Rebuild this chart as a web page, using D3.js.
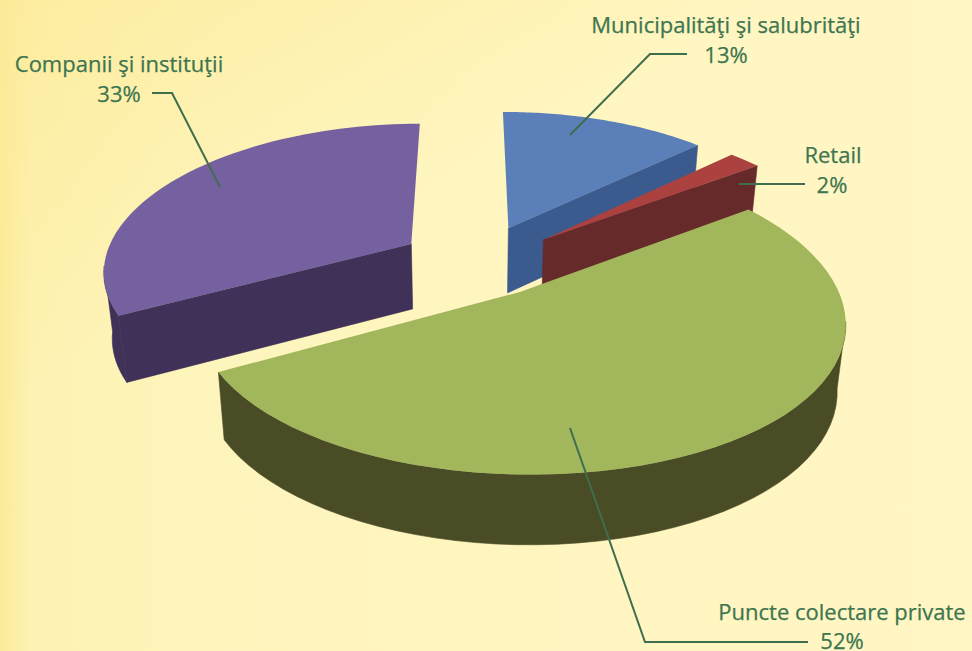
<!DOCTYPE html>
<html>
<head>
<meta charset="utf-8">
<script src="https://cdnjs.cloudflare.com/ajax/libs/d3/7.8.5/d3.min.js"></script>
<style>
  html, body { margin: 0; padding: 0; background: #fff5bf; overflow: hidden; }
  svg { display: block; }
  .label { font-family: "Open Sans", sans-serif; font-size: 22px; fill: #3d7550; stroke: #3d7550; stroke-width: 0.25; text-anchor: middle; }
  .leader { fill: none; stroke: #3f6e4e; stroke-width: 2; }
</style>
</head>
<body>
<svg width="972" height="651"></svg>
<script>
// slice data, clockwise from the top of the pie
var categories = ["Municipalităţi şi salubrităţi", "Retail", "Puncte colectare private", "Companii şi instituţii"];
var shares = [13, 2, 52, 33];
var shareLabels = ["13%", "2%", "52%", "33%"];
var topColors = ["#5b7fb9", "#ab423f", "#a2b65c", "#7560a0"];
var sideColors = ["#3b5a8e", "#672a2a", "#4a4c26", "#3f3157"];

// **** 3D pie geometry ****
var width = 972, height = 651;
var x0 = 470, y0 = 292;        // where the perspective is centered
var R = 319, tilt = 0.481;     // radius and flattening of the disc
var perspX = 0.18, perspY = 0.16;  // how much closer the front looks
var shrink = 0.977;            // the bottom face is a bit further away

// how far each slice is pulled out of the pie (in radii)
var pulled = [[0.13, -0.445], [0.245, -0.36], [0.156, 0], [-0.195, -0.33]];
var drawOrder = [3, 0, 1, 2];

function project(u, v, bottom) {
    var s = 1 / (1 - perspX * v);
    var sy = 1 / (1 - perspY * v);
    var sz = bottom ? shrink : 1;
    return [
        x0 + R * u * s * sz,
        y0 + R * tilt * v * sy * sz + (bottom ? 28 + 38 * s : 0)
    ];
}

var svg = d3.select("svg");

// **** Background ****
var defs = svg.append("defs");
var bg = defs.append("linearGradient").attr("id", "bg");
bg.append("stop").attr("offset", "0").attr("stop-color", "#fbea98");
bg.append("stop").attr("offset", "0.03").attr("stop-color", "#fdf2b2");
bg.append("stop").attr("offset", "0.2").attr("stop-color", "#fef5bd");
bg.append("stop").attr("offset", "1").attr("stop-color", "#fff6c4");

var bgTop = defs.append("linearGradient").attr("id", "bgTop")
    .attr("x1", 0).attr("y1", 0).attr("x2", 0.3).attr("y2", 0.4);
bgTop.append("stop").attr("offset", "0").attr("stop-color", "#fdea98").attr("stop-opacity", 0.7);
bgTop.append("stop").attr("offset", "1").attr("stop-color", "#fdea98").attr("stop-opacity", 0);

svg.append("rect").attr("width", width).attr("height", height).attr("fill", "url(#bg)");
svg.append("rect").attr("width", width).attr("height", height).attr("fill", "url(#bgTop)");

// **** Slices ****
var pie = d3.pie().sort(null).value(function(d) { return d; });
var arcs = pie(shares);
var line = d3.line();

drawOrder.forEach(function(i) {
    var a = arcs[i];
    var ou = pulled[i][0], ov = pulled[i][1];

    var angles = d3.range(0, 61).map(function(k) {
        return a.startAngle + (a.endAngle - a.startAngle) * k / 60;
    });
    var rim = angles.map(function(t) { return [ou + Math.sin(t), ov - Math.cos(t)]; });
    var outline = [[ou, ov]].concat(rim);

    var g = svg.append("g").attr("class", "slice");

    // one wall from a run of outline points: top edge, then bottom edge back
    function wall(run) {
        var upper = run.map(function(p) { return project(p[0], p[1], false); });
        var lower = run.map(function(p) { return project(p[0], p[1], true); }).reverse();
        g.append("path")
            .attr("d", line(upper.concat(lower)) + "Z")
            .attr("fill", sideColors[i])
            .attr("stroke", sideColors[i])
            .attr("stroke-width", 0.6);
    }

    // only the faces that look towards the viewer; with perspective the rim
    // shows from its widest point on, a little in front of the disc's middle
    if (Math.sin(a.startAngle) < -0.01) wall([[ou, ov], rim[0]]);
    if (Math.sin(a.endAngle) > 0.01) wall([[ou, ov], rim[60]]);
    var front = rim.filter(function(p, k) { return Math.cos(angles[k]) < -0.15; });
    if (front.length > 1) wall(front);

    g.append("path")
        .attr("d", line(outline.map(function(p) { return project(p[0], p[1], false); })) + "Z")
        .attr("fill", topColors[i]);
});

// **** Leader lines ****
var leaders = [
    [[687, 54], [650, 54], [570, 135]],
    [[805, 184], [739, 184]],
    [[808, 642], [645, 642], [570, 428]],
    [[152, 93], [172, 93], [220, 187]]
];
leaders.forEach(function(pts) {
    svg.append("path").attr("class", "leader").attr("d", line(pts));
});

// **** Labels ****
var labelPos = [
    { x: 726, name: 33, value: 63 },
    { x: 833, name: 163, value: 193 },
    { x: 842, name: 620, value: 649 },
    { x: 119, name: 72, value: 102 }
];
var valueX = [726, 832, 842, 119];

categories.forEach(function(name, i) {
    svg.append("text")
        .attr("class", "label")
        .attr("x", labelPos[i].x)
        .attr("y", labelPos[i].name)
        .text(name);
    svg.append("text")
        .attr("class", "label")
        .attr("x", valueX[i])
        .attr("y", labelPos[i].value)
        .text(shareLabels[i]);
});
</script>
</body>
</html>
